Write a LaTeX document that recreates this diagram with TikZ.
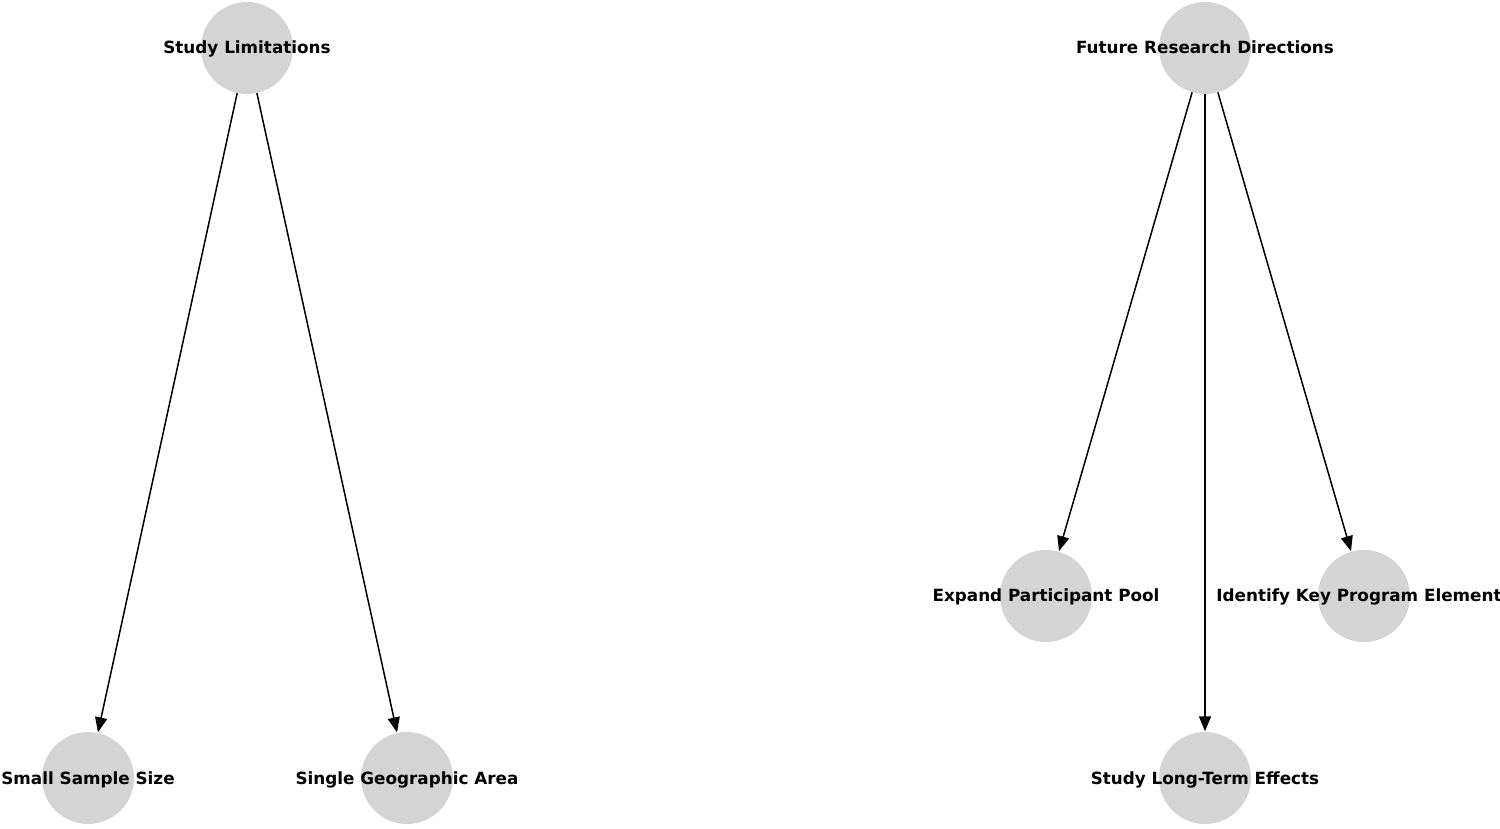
\documentclass[tikz,border=0pt]{standalone}
\usepackage{fontspec}
\setmainfont{DejaVu Sans}
\usetikzlibrary{arrows.meta}
\begin{document}
\begin{tikzpicture}[x=1pt,y=1pt,
  dot/.style={circle,fill=black!17,draw=none,minimum size=92pt,inner sep=0pt},
  txt/.style={font=\fontsize{16.8}{18}\selectfont\bfseries,text=black,inner sep=0pt,text height=12pt,text depth=0pt},
  arr/.style={draw=black,line width=1.5pt,-{Triangle[length=15pt,width=12pt]},shorten >=0.5pt}]
\useasboundingbox (0,0) rectangle (1500,828);
\clip (0,0) rectangle (1500,828);
\node[dot] (sl) at (247,780) {};
\node[dot] (ss) at (88,50) {};
\node[dot] (sg) at (407,50) {};
\node[dot] (fr) at (1205,780) {};
\node[dot] (ep) at (1046,232) {};
\node[dot] (lt) at (1205,50) {};
\node[dot] (ik) at (1364,232) {};
\draw[arr] (sl) -- (ss);
\draw[arr] (sl) -- (sg);
\draw[arr] (fr) -- (ep);
\draw[arr] (fr) -- (lt);
\draw[arr] (fr) -- (ik);
\node[txt] (tsl) at (sl) {Study Limitations};
\node[txt] (tss) at (ss) {Small Sample Size};
\node[txt] (tsg) at (sg) {Single Geographic Area};
\node[txt] (tfr) at (fr) {Future Research Directions};
\node[txt] (tep) at (ep) {Expand Participant Pool};
\node[txt] (tlt) at (lt) {Study Long-Term Effects};
\node[txt] (tik) at (ik) {Identify Key Program Elements};
\end{tikzpicture}
\end{document}
